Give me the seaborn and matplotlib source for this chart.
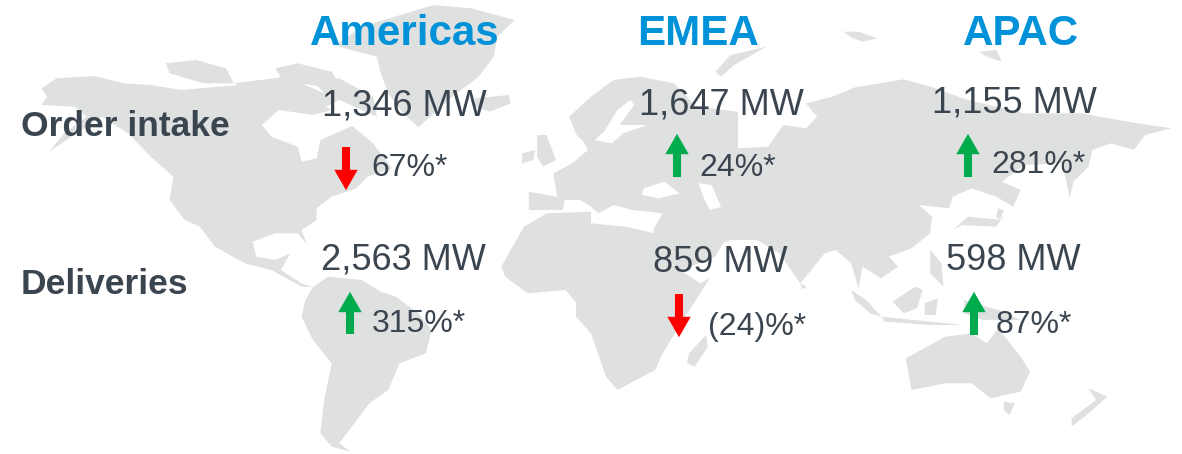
import matplotlib
matplotlib.use("Agg")
import matplotlib.pyplot as plt
from matplotlib.path import Path
import pandas as pd
import seaborn as sns

regions = ["Americas", "EMEA", "APAC"]
rows = ["Order intake", "Deliveries"]
order_mw = ["1,346 MW", "1,647 MW", "1,155 MW"]
deliv_mw = ["2,563 MW", "859 MW", "598 MW"]
order_pct = ["67%*", "24%*", "281%*"]
deliv_pct = ["315%*", "(24)%*", "87%*"]
order_dir = ["down", "up", "up"]
deliv_dir = ["up", "down", "up"]

# where things sit on the slide, in pixels
title_x = [405, 698, 1021]
order_mw_xy = [(404, 103), (721, 102), (1014, 100)]
deliv_mw_xy = [(403, 257), (720, 260), (1013, 258)]
order_pct_xy = [(371, 165), (699, 165), (991, 162)]
deliv_pct_xy = [(372, 321), (708, 324), (996, 322)]
order_arrow = [(346, 147, 190), (677, 134, 177), (968, 134, 177)]
deliv_arrow = [(350, 292, 334), (679, 294, 337), (974, 292, 335)]

west_land = [
    [(890, 135), (960, 80), (1150, 15), (1250, 25), (1365, 60), (1320, 110), (1310, 170), (1270, 230),
     (1200, 290), (1110, 382), (1070, 340), (1030, 280), (1010, 220), (1000, 170), (930, 150)],
    [(110, 265), (150, 235), (250, 228), (330, 250), (400, 255), (480, 270), (560, 262), (640, 255), (700, 240),
     (760, 270), (830, 300), (880, 330), (830, 345), (740, 330), (695, 375), (720, 410), (790, 440), (800, 485),
     (840, 475), (850, 420), (900, 395), (935, 378), (990, 430), (1040, 505), (975, 530), (945, 565), (880, 590),
     (840, 625), (840, 660), (800, 690), (815, 735), (790, 700), (730, 700), (670, 725), (680, 770), (730, 780),
     (770, 760), (745, 810), (800, 850), (830, 862), (800, 860), (720, 810), (650, 790), (570, 740), (530, 680),
     (490, 660), (450, 600), (460, 530), (400, 470), (340, 400), (270, 350), (190, 410), (130, 455), (170, 400),
     (230, 350), (200, 320), (110, 315), (125, 290)],
    [(830, 862), (870, 830), (960, 840), (1010, 875), (1050, 890), (1110, 940), (1145, 990), (1130, 1060),
     (1060, 1090), (1030, 1170), (980, 1210), (940, 1270), (900, 1330), (930, 1355), (880, 1340), (850, 1300),
     (860, 1200), (880, 1090), (830, 1020), (800, 950), (810, 900)],
    [(440, 190), (520, 180), (600, 205), (620, 250), (540, 250), (450, 220)],
    [(730, 205), (790, 190), (880, 215), (910, 270), (850, 260), (750, 240)],
    [(830, 240), (900, 235), (990, 290), (1000, 350), (940, 320), (860, 280)],
    [(620, 250), (760, 230), (900, 300), (830, 340), (700, 300)],
    [(1260, 295), (1350, 285), (1355, 310), (1300, 335), (1260, 320)],
    [(1385, 460), (1420, 450), (1415, 480), (1385, 490)],
    [(1425, 405), (1450, 405), (1475, 480), (1440, 500), (1425, 470)],
    [(1330, 800), (1390, 680), (1450, 640), (1568, 635), (1568, 960), (1500, 870), (1400, 880), (1340, 830)],
]
east_land = [
    [(0, 670), (90, 680), (170, 700), (210, 790), (290, 850), (315, 835), (250, 950), (190, 1060), (170, 1110),
     (70, 1170), (40, 1130), (0, 1000), (-40, 950), (-40, 670)],
    [(-165, 630), (-165, 575), (-90, 590), (-100, 520), (-50, 490), (-8, 450), (-20, 425), (-38, 405), (-58, 350),
     (0, 290), (60, 240), (130, 230), (220, 250), (280, 320), (390, 335), (390, 445),
     (470, 440), (510, 375), (570, 385), (600, 350), (570, 310), (640, 290), (700, 262), (830, 238), (900, 260),
     (1000, 300), (1150, 340), (1300, 340), (1450, 370), (1540, 385), (1470, 405), (1440, 450), (1380, 430),
     (1330, 450), (1320, 500), (1280, 545), (1270, 595), (1260, 540), (1250, 490), (1150, 495), (1090, 545),
     (1140, 570), (1120, 620), (1075, 590), (1010, 565), (960, 590), (950, 625), (870, 615), (905, 650),
     (900, 700), (850, 745), (790, 770), (815, 800), (770, 835), (720, 800), (710, 865), (690, 790), (650, 750),
     (620, 760), (570, 830), (555, 850), (500, 760), (440, 720), (370, 720), (350, 730), (330, 770), (240, 810),
     (200, 780), (165, 690), (190, 640), (110, 630), (60, 615), (20, 640), (-5, 615), (-30, 600), (-70, 600),
     (-75, 630)],
    [(330, 215), (370, 165), (465, 140), (380, 195), (345, 230)],
    [(670, 95), (710, 95), (760, 115), (720, 125), (690, 112)],
    [(1030, 155), (1075, 150), (1090, 185), (1050, 170)],
    [(1090, 660), (1000, 650), (960, 690), (985, 675), (1075, 680), (1100, 640)],
    [(1080, 625), (1095, 630), (1085, 660), (1075, 650)],
    [(900, 750), (930, 790), (935, 860), (900, 820)],
    [(800, 905), (860, 860), (880, 870), (865, 925), (830, 940)],
    [(690, 870), (730, 900), (770, 950), (740, 940), (700, 900)],
    [(770, 950), (900, 965), (990, 975), (900, 975), (780, 965)],
    [(885, 910), (920, 895), (915, 945), (885, 945)],
    [(990, 900), (1080, 930), (1140, 960), (1040, 960), (990, 940)],
    [(835, 1075), (940, 1010), (1010, 1000), (1050, 1030), (1080, 985), (1140, 1070), (1165, 1115), (1140, 1175),
     (1060, 1195), (1010, 1150), (940, 1150), (850, 1170)],
    [(1095, 1205), (1125, 1210), (1110, 1245), (1095, 1230)],
    [(1320, 1165), (1370, 1190), (1320, 1240), (1275, 1280), (1275, 1255), (1340, 1200)],
    [(260, 1060), (305, 1005), (310, 1040), (275, 1100), (255, 1090)],
    [(555, 850), (572, 860), (560, 868)],
]
east_sea = [
    [(140, 565), (195, 545), (235, 580), (180, 595), (135, 585)],
    [(285, 550), (320, 555), (345, 620), (315, 630), (300, 595)],
    [(35, 395), (70, 330), (105, 300), (115, 315), (75, 375), (150, 375), (85, 400), (55, 430), (10, 420)],
]


def west(pts):
    return [(x / 2.653, y / 3) for x, y in pts]


def east(pts):
    return [(591 + x / 2.653, y / 3) for x, y in pts]


sns.set_theme(style="white")
plt.rcParams["font.family"] = ["Liberation Sans", "DejaVu Sans"]

fig, ax = plt.subplots(figsize=(11.82, 4.54), dpi=100)
fig.subplots_adjust(0, 0, 1, 1)

land = "#dfe1e1"
for poly in west_land:
    ax.fill(*zip(*west(poly)), color=land, lw=0, zorder=1)
for poly in east_land:
    ax.fill(*zip(*east(poly)), color=land, lw=0, zorder=1)
for poly in east_sea:
    ax.fill(*zip(*east(poly)), color="white", lw=0, zorder=2)

# arrow heads go through seaborn, shafts are plain lines behind them
arrows = order_arrow + deliv_arrow
dirs = order_dir + deliv_dir
df = pd.DataFrame({
    "x": [a[0] for a in arrows],
    "y": [a[1] + 10 if d == "up" else a[2] - 10 for a, d in zip(arrows, dirs)],
    "dir": dirs,
})
# the y axis is flipped but markers are not
up_head = Path([(-1, -0.87), (1, -0.87), (0, 0.87), (-1, -0.87)], closed=True)
down_head = Path([(-1, 0.87), (1, 0.87), (0, -0.87), (-1, 0.87)], closed=True)
sns.scatterplot(data=df, x="x", y="y", hue="dir", style="dir",
                palette={"up": "#00ab4e", "down": "#ff0000"},
                markers={"up": up_head, "down": down_head},
                s=285, linewidth=0, legend=False, ax=ax, zorder=5)
for (x, y0, y1), d in zip(arrows, dirs):
    ax.plot([x, x], [y0 + 15, y1] if d == "up" else [y0, y1 - 15],
            color="#00ab4e" if d == "up" else "#ff0000", lw=5.8,
            solid_capstyle="butt", zorder=4)
ax.set(xlabel="", ylabel="")
ax.set_xlim(0, 1182)
ax.set_ylim(454, 0)
ax.set_axis_off()

ink = "#3b4550"
for name, x in zip(regions, title_x):
    ax.text(x, 34, name, color="#0092d8", fontsize=30.3, fontweight="bold",
            ha="center", va="center", zorder=6)
for name, y in zip(rows, [126, 284]):
    ax.text(21, y, name, color=ink, fontsize=25.5, fontweight="bold",
            ha="left", va="center", zorder=6)
for txt, (x, y) in zip(order_mw + deliv_mw, order_mw_xy + deliv_mw_xy):
    ax.text(x, y + 3, txt, color=ink, fontsize=26, ha="center", va="center", zorder=6)
for txt, (x, y) in zip(order_pct + deliv_pct, order_pct_xy + deliv_pct_xy):
    ax.text(x, y + 3, txt, color=ink, fontsize=23, ha="left", va="center", zorder=6)

plt.savefig("out.png", dpi=100)
